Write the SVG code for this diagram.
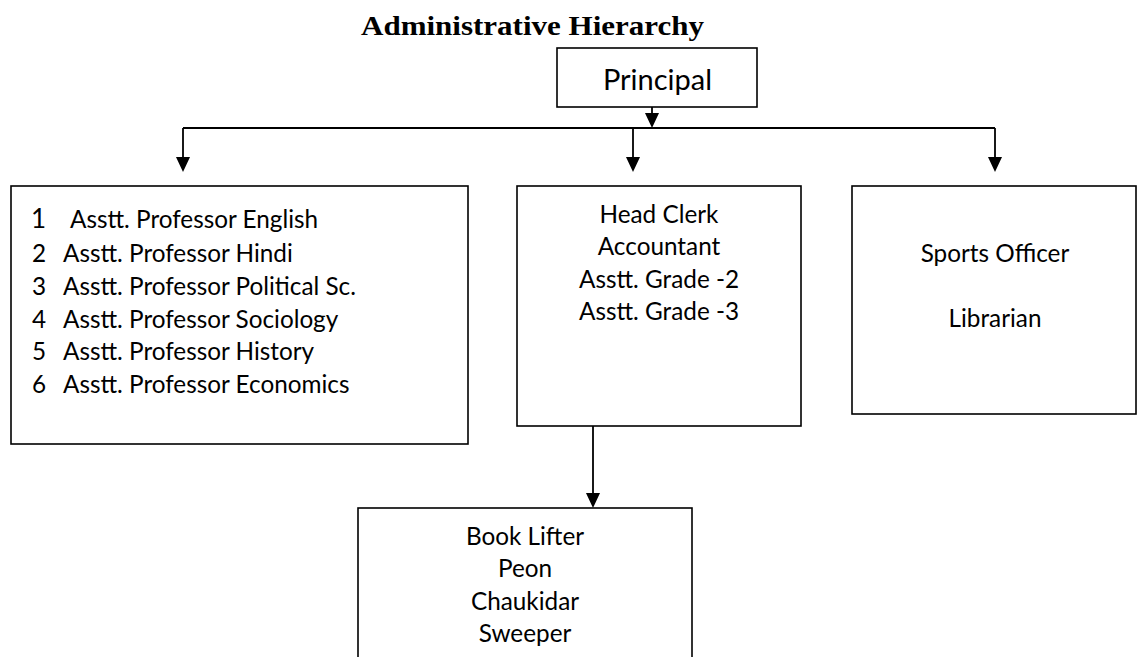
<svg xmlns="http://www.w3.org/2000/svg" width="1138" height="657" viewBox="0 0 1138 657">
<style>
.box{fill:#fff;stroke:#000;stroke-width:1.6}
.t{font-family:Lato,"Open Sans","Liberation Sans",sans-serif;font-size:24.3px;fill:#000}
.c{text-anchor:middle}
.line{stroke:#000;stroke-width:1.8;fill:none}
.head{fill:#000}
.title{font-family:"Liberation Serif",serif;font-weight:bold;font-size:28px;fill:#000}
</style>
<text class="title" x="361" y="35" textLength="343" lengthAdjust="spacingAndGlyphs">Administrative Hierarchy</text>
<g id="connectors">
<path class="line" d="M652,107 V114"/>
<path class="head" d="M645,113 L659,113 L652,128 z"/>
<path class="line" d="M183,128 H995"/>
<path class="line" d="M183,128 V158"/>
<path class="head" d="M176,157 L190,157 L183,172 z"/>
<path class="line" d="M633,128 V158"/>
<path class="head" d="M626,157 L640,157 L633,172 z"/>
<path class="line" d="M995,128 V158"/>
<path class="head" d="M988,157 L1002,157 L995,172 z"/>
<path class="line" d="M593,426 V494"/>
<path class="head" d="M586,493 L600,493 L593,508 z"/>
</g>
<g id="principal">
<rect class="box" x="557" y="48" width="200" height="59"/>
<text class="t c" x="657.5" y="90" style="font-size:29px">Principal</text>
</g>
<g id="professors">
<rect class="box" x="11" y="186" width="457" height="258"/>
<text class="t" x="31" y="228" style="font-size:26px">1</text>
<text class="t" x="70" y="228">Asstt. Professor English</text>
<text class="t" x="32" y="262">2</text>
<text class="t" x="63" y="262">Asstt. Professor Hindi</text>
<text class="t" x="32" y="295">3</text>
<text class="t" x="63" y="295">Asstt. Professor Political Sc.</text>
<text class="t" x="32" y="328">4</text>
<text class="t" x="63" y="328">Asstt. Professor Sociology</text>
<text class="t" x="32" y="360">5</text>
<text class="t" x="63" y="360">Asstt. Professor History</text>
<text class="t" x="32" y="393">6</text>
<text class="t" x="63" y="393">Asstt. Professor Economics</text>
</g>
<g id="office">
<rect class="box" x="517" y="186" width="284" height="240"/>
<text class="t c" x="659" y="223">Head Clerk</text>
<text class="t c" x="659" y="255">Accountant</text>
<text class="t c" x="659" y="288">Asstt. Grade -2</text>
<text class="t c" x="659" y="320">Asstt. Grade -3</text>
</g>
<g id="sports">
<rect class="box" x="852" y="186" width="284" height="228"/>
<text class="t c" x="995" y="262">Sports Officer</text>
<text class="t c" x="995" y="327">Librarian</text>
</g>
<g id="staff">
<rect class="box" x="358" y="508" width="334" height="160"/>
<text class="t c" x="525" y="545">Book Lifter</text>
<text class="t c" x="525" y="577">Peon</text>
<text class="t c" x="525" y="610">Chaukidar</text>
<text class="t c" x="525" y="642">Sweeper</text>
</g>
</svg>
